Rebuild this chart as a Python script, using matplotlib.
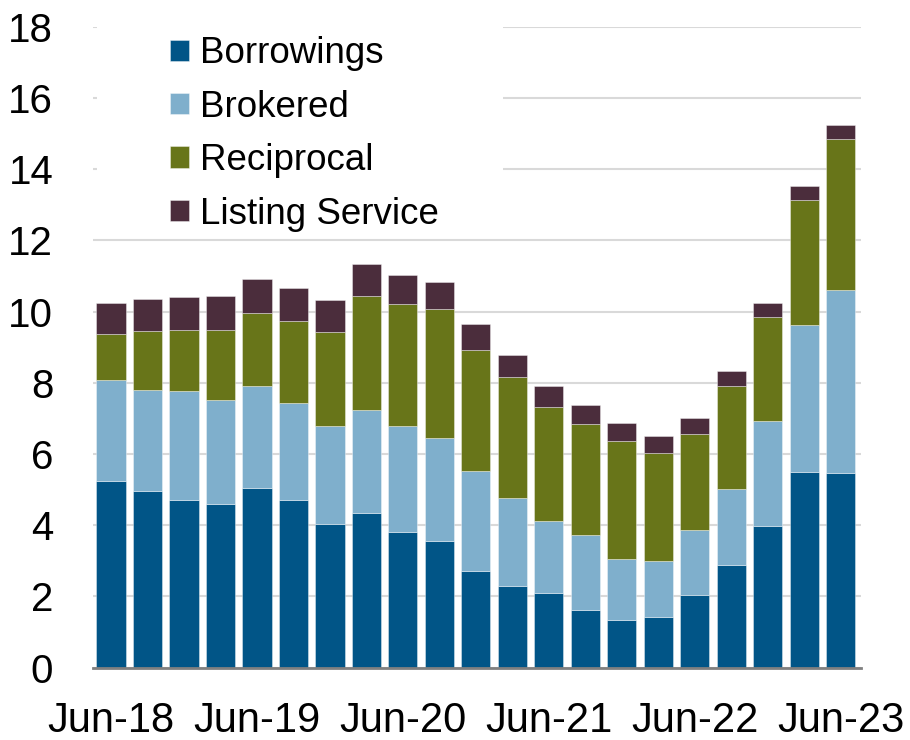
import matplotlib
matplotlib.use("Agg")
import matplotlib.pyplot as plt
from matplotlib.patches import Rectangle
import numpy as np

plt.rcParams['font.family'] = ['Liberation Sans', 'DejaVu Sans']

quarters = ["Jun-18", "Sep-18", "Dec-18", "Mar-19", "Jun-19", "Sep-19", "Dec-19",
            "Mar-20", "Jun-20", "Sep-20", "Dec-20", "Mar-21", "Jun-21", "Sep-21",
            "Dec-21", "Mar-22", "Jun-22", "Sep-22", "Dec-22", "Mar-23", "Jun-23"]
borrowings = [5.23, 4.97, 4.72, 4.59, 5.06, 4.71, 4.03, 4.35, 3.81, 3.56, 2.72,
              2.30, 2.10, 1.63, 1.35, 1.43, 2.05, 2.88, 3.99, 5.50, 5.46]
brokered = [2.86, 2.83, 3.04, 2.94, 2.84, 2.71, 2.75, 2.88, 2.97, 2.90, 2.79,
            2.46, 2.03, 2.09, 1.71, 1.57, 1.82, 2.15, 2.95, 4.12, 5.14]
reciprocal = [1.29, 1.66, 1.73, 1.96, 2.07, 2.32, 2.65, 3.22, 3.44, 3.61, 3.42,
              3.39, 3.20, 3.13, 3.32, 3.03, 2.68, 2.89, 2.91, 3.52, 4.25]
listing = [0.86, 0.89, 0.92, 0.96, 0.94, 0.93, 0.90, 0.90, 0.82, 0.77, 0.71,
           0.64, 0.58, 0.53, 0.50, 0.47, 0.45, 0.40, 0.40, 0.38, 0.38]

series = [("Borrowings", borrowings, "#015587"),
          ("Brokered", brokered, "#7fafcc"),
          ("Reciprocal", reciprocal, "#687519"),
          ("Listing Service", listing, "#4b2d3c")]

fig = plt.figure(figsize=(9.1, 7.4), dpi=100)
ax = fig.add_axes([0.1019, 0.0977, 0.8441, 0.8662])

x = np.arange(len(quarters))
bottom = np.zeros(len(quarters))
for name, vals, col in series:
    ax.bar(x, vals, width=0.8, bottom=bottom, color=col, label=name,
           edgecolor=(1, 1, 1, 0.45), linewidth=0.6, zorder=3)
    bottom += np.array(vals)

ax.set_xlim(-0.5, 20.55)
ax.set_ylim(0, 18)
ax.set_yticks(range(0, 19, 2))
ax.set_xticks(x[::4])
ax.set_xticklabels(quarters[::4])
ax.tick_params(axis='both', length=0, labelsize=29)
ax.tick_params(axis='y', pad=28.5)
ax.tick_params(axis='x', pad=24, labelsize=30)

ax.grid(axis='y', color='#d9d9d9', linewidth=1.5)
for s in ['top', 'right', 'left']:
    ax.spines[s].set_visible(False)
ax.spines['bottom'].set_color('#808080')
ax.spines['bottom'].set_linewidth(2)
ax.spines['bottom'].set_zorder(4)

# white box behind the legend hides the upper gridlines
ax.add_patch(Rectangle((0.005, 0.686), 0.529, 0.33, transform=ax.transAxes,
                       facecolor='white', edgecolor='none', zorder=2,
                       clip_on=False))

leg = ax.legend(loc='upper left', bbox_to_anchor=(0.101, 0.985), frameon=False,
                fontsize=26.5, handlelength=0.52, handleheight=0.52,
                handletextpad=0.3, labelspacing=0.5, borderpad=0,
                borderaxespad=0)

fig.savefig("out.png", dpi=100)
